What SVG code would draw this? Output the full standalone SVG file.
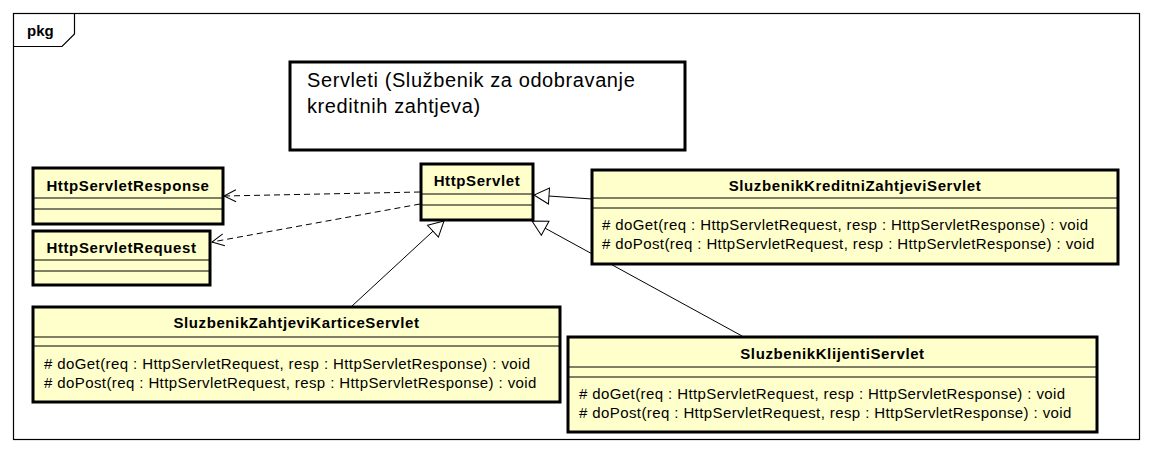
<svg xmlns="http://www.w3.org/2000/svg" width="1153" height="453" viewBox="0 0 1153 453">
<style>
.cls{fill:#FFFFCC;stroke:#000;stroke-width:3}
.sep{stroke:#000;stroke-width:1}
.nm{font-family:"Liberation Sans",Arial,sans-serif;font-weight:bold;font-size:15px;letter-spacing:0.6px;text-anchor:middle}
.op{font-family:"Liberation Sans",Arial,sans-serif;font-size:15px;letter-spacing:0.4px}
.dep{stroke:#000;stroke-width:1;fill:none;stroke-dasharray:6,4}
.gen{stroke:#000;stroke-width:1;fill:none}
</style>
<defs>
<marker id="open" markerWidth="14" markerHeight="14" refX="12" refY="6" orient="auto" markerUnits="userSpaceOnUse" overflow="visible">
<path d="M0,0 L12,6 L0,12" fill="none" stroke="#000" stroke-width="1"/>
</marker>
<marker id="tri" markerWidth="18" markerHeight="18" refX="15" refY="8" orient="auto" markerUnits="userSpaceOnUse" overflow="visible">
<path d="M0,0 L15,8 L0,16 Z" fill="#fff" stroke="#000" stroke-width="1"/>
</marker>
</defs>
<rect width="1153" height="453" fill="#fff"/>
<g id="frame">
<rect x="13.5" y="13.5" width="1126" height="426" fill="none" stroke="#000" stroke-width="1.2"/>
<path d="M13.5,46.5 H62 L74.5,34 V13.5" fill="none" stroke="#000" stroke-width="1.2"/>
<text x="27" y="36" font-family="Liberation Sans,Arial,sans-serif" font-weight="bold" font-size="15">pkg</text>
</g>
<g id="note">
<rect x="290" y="62" width="395" height="88" fill="#fff" stroke="#000" stroke-width="3"/>
<text font-family="Liberation Sans,Arial,sans-serif" font-size="20" letter-spacing="0.6"><tspan x="307" y="87">Servleti (Službenik za odobravanje</tspan><tspan x="307" y="113">kreditnih zahtjeva)</tspan></text>
</g>
<g id="connectors">
<path class="dep" d="M420,192 L224,196" marker-end="url(#open)"/>
<path class="dep" d="M420,204 L212,242" marker-end="url(#open)"/>
<path class="gen" d="M592,199 L534,195" marker-end="url(#tri)"/>
<path class="gen" d="M352,306 L444,221" marker-end="url(#tri)"/>
<path class="gen" d="M742,336 L532,221" marker-end="url(#tri)"/>
</g>
<g id="HttpServletResponse">
<rect class="cls" x="33" y="168" width="190" height="56"/>
<line class="sep" x1="33" y1="198" x2="223" y2="198"/>
<line class="sep" x1="33" y1="209" x2="223" y2="209"/>
<text class="nm" x="128" y="191">HttpServletResponse</text>
</g>
<g id="HttpServletRequest">
<rect class="cls" x="33" y="231" width="177" height="54"/>
<line class="sep" x1="33" y1="260" x2="210" y2="260"/>
<line class="sep" x1="33" y1="271" x2="210" y2="271"/>
<text class="nm" x="121.5" y="253">HttpServletRequest</text>
</g>
<g id="HttpServlet">
<rect class="cls" x="421" y="164" width="112" height="56"/>
<line class="sep" x1="421" y1="194" x2="533" y2="194"/>
<line class="sep" x1="421" y1="205" x2="533" y2="205"/>
<text class="nm" x="477" y="186">HttpServlet</text>
</g>
<g id="SluzbenikKreditniZahtjeviServlet">
<rect class="cls" x="592" y="170" width="526" height="94"/>
<line class="sep" x1="592" y1="198" x2="1118" y2="198"/>
<line class="sep" x1="592" y1="208" x2="1118" y2="208"/>
<text class="nm" x="855" y="191">SluzbenikKreditniZahtjeviServlet</text>
<text class="op" x="602" y="230">#&#160;doGet(req : HttpServletRequest, resp : HttpServletResponse) : void</text>
<text class="op" x="602" y="249">#&#160;doPost(req : HttpServletRequest, resp : HttpServletResponse) : void</text>
</g>
<g id="SluzbenikZahtjeviKarticeServlet">
<rect class="cls" x="33" y="307" width="527" height="95"/>
<line class="sep" x1="33" y1="337" x2="560" y2="337"/>
<line class="sep" x1="33" y1="346" x2="560" y2="346"/>
<text class="nm" x="296.5" y="328">SluzbenikZahtjeviKarticeServlet</text>
<text class="op" x="44" y="369">#&#160;doGet(req : HttpServletRequest, resp : HttpServletResponse) : void</text>
<text class="op" x="44" y="388">#&#160;doPost(req : HttpServletRequest, resp : HttpServletResponse) : void</text>
</g>
<g id="SluzbenikKlijentiServlet">
<rect class="cls" x="568" y="337" width="529" height="95"/>
<line class="sep" x1="568" y1="367" x2="1097" y2="367"/>
<line class="sep" x1="568" y1="377" x2="1097" y2="377"/>
<text class="nm" x="832.5" y="359">SluzbenikKlijentiServlet</text>
<text class="op" x="579" y="399">#&#160;doGet(req : HttpServletRequest, resp : HttpServletResponse) : void</text>
<text class="op" x="579" y="418">#&#160;doPost(req : HttpServletRequest, resp : HttpServletResponse) : void</text>
</g>
</svg>
